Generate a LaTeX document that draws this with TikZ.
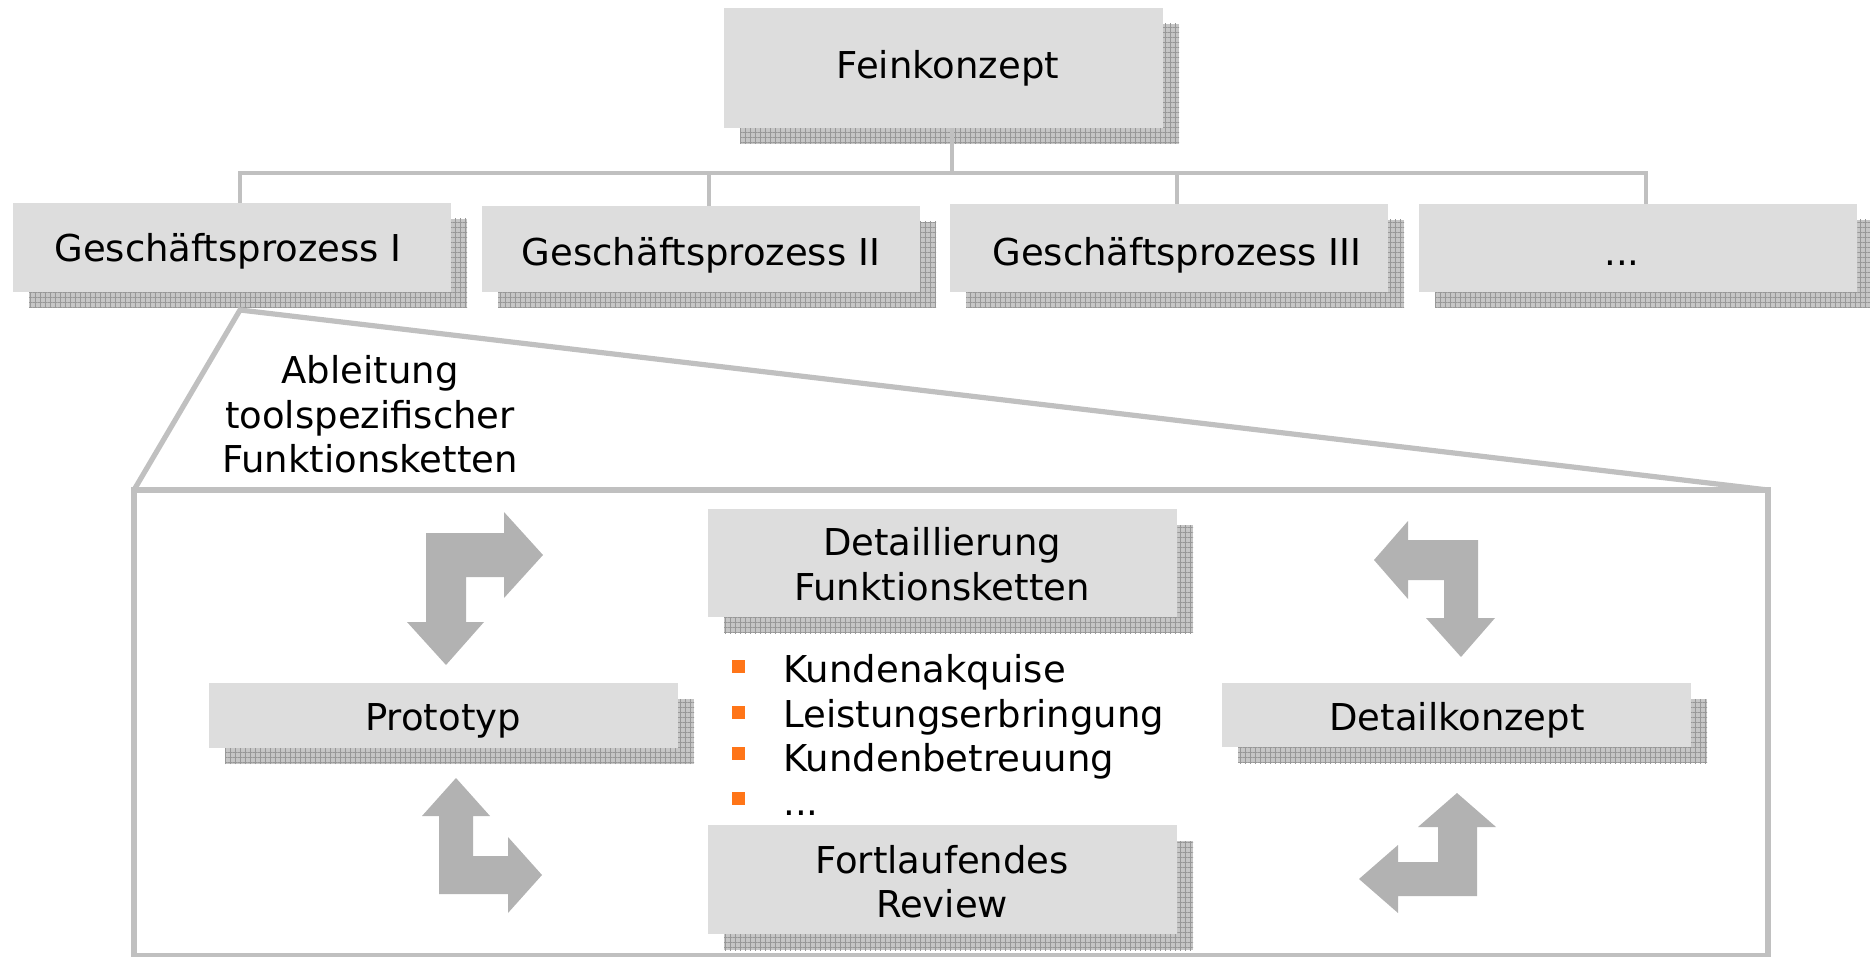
\documentclass[tikz,border=0pt]{standalone}
\usepackage{fontspec}
\setmainfont{DejaVu Sans}
\usetikzlibrary{patterns.meta}

\definecolor{boxgray}{HTML}{DDDDDD}
\definecolor{shadowbg}{HTML}{C6C6C6}
\definecolor{shadowgrid}{HTML}{989898}
\definecolor{linegray}{HTML}{C0C0C0}
\definecolor{arrowgray}{HTML}{B2B2B2}
\definecolor{bulletorange}{HTML}{FF7518}

% panel: name, left, top, right, bottom (in picture units); draws a hatched shadow and the box
\newcommand{\panel}[5]{%
  \fill[shadowpat] (#2+16,#3+16) rectangle (#4+16,#5+16);
  \node[box, minimum width={(#4-#2)*0.5pt}, minimum height={(#5-#3)*0.5pt}] (#1) at ({(#2+#4)/2},{(#3+#5)/2}) {};
}

\begin{document}
\begin{tikzpicture}[x=0.5pt,y=-0.5pt,
  font=\fontsize{18.5pt}{22.2pt}\selectfont,
  box/.style={rectangle, fill=boxgray, inner sep=0pt, outer sep=0pt},
  shadowpat/.style={preaction={fill=shadowbg}, pattern={Hatch[angle=0,distance=2.5pt,line width=0.35pt]}, pattern color=shadowgrid},
  conn/.style={draw=linegray, line width=2pt},
  zoomline/.style={draw=linegray, line width=2.6pt},
  txt/.style={anchor=base, inner sep=0pt},
  itemtxt/.style={anchor=base west, inner sep=0pt},
  bent/.style={fill=arrowgray},
  sq/.style={rectangle, fill=bulletorange, minimum size=6.5pt, inner sep=0pt},
]
\useasboundingbox (0,0) rectangle (1870,957);

% top level
\panel{fein}{724}{8}{1163}{128}
% process level
\panel{gp1}{13}{203}{451}{292}
\panel{gp2}{482}{206}{920}{292}
\panel{gp3}{950}{204}{1388}{292}
\panel{gp4}{1419}{204}{1857}{292}

% detail frame
\node[draw=linegray, line width=2.75pt, inner sep=0pt, outer sep=0pt,
      minimum width=817pt, minimum height=233pt] (frame) at (951,723) {};

\panel{detail}{708}{509}{1177}{617}
\panel{proto}{209}{683}{678}{748}
\panel{dkon}{1222}{683}{1691}{747}
\panel{review}{708}{825}{1177}{934}

% tree connectors
\coordinate (bus) at (0,173);
\coordinate (f0) at ([xshift=4pt]fein.south);
\coordinate (g1) at ([xshift=4pt]gp1.north);
\coordinate (g2) at ([xshift=4pt]gp2.north);
\coordinate (g3) at ([xshift=4pt]gp3.north);
\coordinate (g4) at ([xshift=4pt]gp4.north);
\draw[conn] (f0) -- (f0 |- bus);
\draw[conn] (g1) -- (g1 |- bus) -- (g4 |- bus) -- (g4);
\draw[conn] (g2 |- bus) -- (g2);
\draw[conn] (g3 |- bus) -- (g3);

% zoom lines into the frame
\coordinate (fun) at ([xshift=4pt,yshift=-9pt]gp1.south);
\draw[zoomline] (frame.north west) -- (fun) -- (frame.north east);

% texts
\node[txt] (tfein) at (948,79) {Feinkonzept};
\node[txt] (tgp1) at (228,262) {Geschäftsprozess I};
\node[txt] (tgp2) at (701,266) {Geschäftsprozess II};
\node[txt] (tgp3) at (1177,266) {Geschäftsprozess III};
\node[txt] (tgp4) at (1622,266) {...};

\node[txt] (tab1) at (370,384) {Ableitung};
\node[txt] (tab2) at (370,429) {toolspezifischer};
\node[txt] (tab3) at (370,473) {Funktionsketten};

\node[txt] (tdet1) at (942,555) {Detaillierung};
\node[txt] (tdet2) at (942,600) {Funktionsketten};
\node[txt] (tproto) at (443,730) {Prototyp};
\node[txt] (tdkon) at (1457,730) {Detailkonzept};
\node[txt] (trev1) at (942,873) {Fortlaufendes};
\node[txt] (trev2) at (942,917) {Review};

% bullet list
\node[sq] (q1) at (738,666) {};
\node[sq] (q2) at (738,712) {};
\node[sq] (q3) at (738,753) {};
\node[sq] (q4) at (738,798) {};
\node[itemtxt] (k1) at (783,682) {Kundenakquise};
\node[itemtxt] (k2) at (783,727) {Leistungserbringung};
\node[itemtxt] (k3) at (783,771) {Kundenbetreuung};
\node[itemtxt] (k4) at (783,815) {...};

% bent double arrows of the cycle
\fill[bent] (426,533) -- (504,533) -- (504,512) -- (543,555) -- (504,598) -- (504,577)
  -- (466,577) -- (466,622) -- (484,622) -- (446,665) -- (407,622) -- (426,622) -- cycle;
\fill[bent] (439,894) -- (439,816) -- (422,816) -- (456,778) -- (490,816) -- (473,816)
  -- (473,856) -- (508,856) -- (508,837) -- (542,875) -- (508,913) -- (508,894) -- cycle;
\fill[bent] (1478,540) -- (1478,618) -- (1495,618) -- (1461,657) -- (1426,618) -- (1444,618)
  -- (1444,580) -- (1408,580) -- (1408,599) -- (1374,560) -- (1408,521) -- (1408,540) -- cycle;
\fill[bent] (1477,896) -- (1477,827) -- (1496,827) -- (1457,793) -- (1418,827) -- (1438,827)
  -- (1438,862) -- (1398,862) -- (1398,845) -- (1359,879) -- (1398,913) -- (1398,896) -- cycle;
\end{tikzpicture}
\end{document}
